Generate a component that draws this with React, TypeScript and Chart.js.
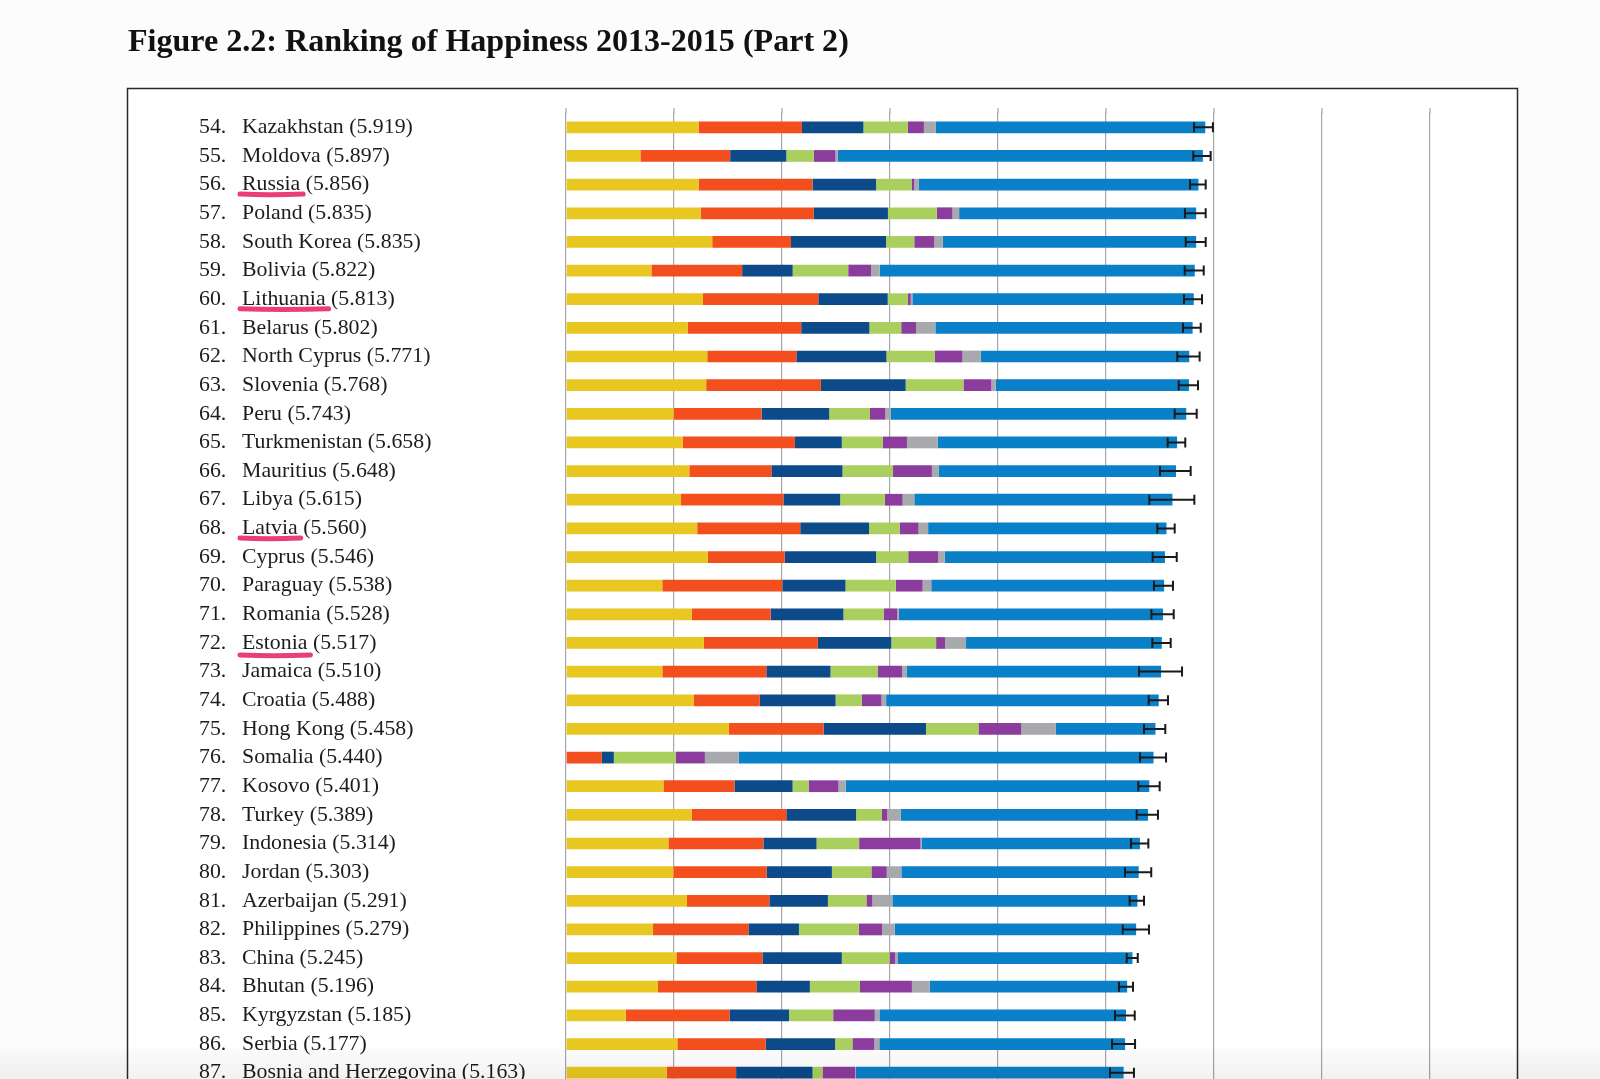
import React, { useEffect, useRef } from 'react';
import { Chart, registerables } from 'chart.js';

Chart.register(...registerables);

const TITLE = 'Figure 2.2: Ranking of Happiness 2013-2015 (Part 2)';

const ranks = [54, 55, 56, 57, 58, 59, 60, 61, 62, 63, 64, 65, 66, 67, 68, 69, 70, 71, 72, 73, 74, 75, 76, 77, 78, 79, 80, 81, 82, 83, 84, 85, 86, 87];

const countries = [
  'Kazakhstan', 'Moldova', 'Russia', 'Poland', 'South Korea', 'Bolivia', 'Lithuania', 'Belarus',
  'North Cyprus', 'Slovenia', 'Peru', 'Turkmenistan', 'Mauritius', 'Libya', 'Latvia', 'Cyprus',
  'Paraguay', 'Romania', 'Estonia', 'Jamaica', 'Croatia', 'Hong Kong', 'Somalia', 'Kosovo',
  'Turkey', 'Indonesia', 'Jordan', 'Azerbaijan', 'Philippines', 'China', 'Bhutan', 'Kyrgyzstan',
  'Serbia', 'Bosnia and Herzegovina',
];

const scores = ['5.919', '5.897', '5.856', '5.835', '5.835', '5.822', '5.813', '5.802', '5.771', '5.768', '5.743', '5.658', '5.648', '5.615', '5.560', '5.546', '5.538', '5.528', '5.517', '5.510', '5.488', '5.458', '5.440', '5.401', '5.389', '5.314', '5.303', '5.291', '5.279', '5.245', '5.196', '5.185', '5.177', '5.163'];

const underlined = ['Russia', 'Lithuania', 'Latvia', 'Estonia'];

const gdp = [1.228, 0.689, 1.228, 1.246, 1.354, 0.791, 1.268, 1.126, 1.308, 1.298, 0.997, 1.080, 1.142, 1.065, 1.215, 1.314, 0.892, 1.166, 1.277, 0.892, 1.182, 1.508, 0.000, 0.902, 1.163, 0.948, 0.994, 1.120, 0.806, 1.022, 0.852, 0.554, 1.031, 0.932];
const social = [0.957, 0.831, 1.055, 1.049, 0.729, 0.840, 1.068, 1.052, 0.825, 1.062, 0.815, 1.040, 0.760, 0.948, 0.954, 0.711, 1.111, 0.729, 1.055, 0.963, 0.612, 0.877, 0.332, 0.658, 0.877, 0.880, 0.865, 0.763, 0.883, 0.797, 0.911, 0.960, 0.818, 0.643];
const health = [0.569, 0.520, 0.588, 0.686, 0.880, 0.468, 0.643, 0.631, 0.834, 0.785, 0.625, 0.434, 0.658, 0.526, 0.637, 0.846, 0.585, 0.674, 0.680, 0.594, 0.702, 0.948, 0.111, 0.538, 0.646, 0.492, 0.603, 0.542, 0.468, 0.735, 0.495, 0.551, 0.643, 0.708];
const freedom = [0.412, 0.255, 0.329, 0.452, 0.262, 0.514, 0.188, 0.295, 0.446, 0.535, 0.378, 0.378, 0.468, 0.412, 0.283, 0.298, 0.465, 0.372, 0.415, 0.440, 0.243, 0.486, 0.572, 0.148, 0.240, 0.394, 0.366, 0.357, 0.554, 0.443, 0.462, 0.409, 0.160, 0.092];
const generosity = [0.148, 0.200, 0.025, 0.145, 0.185, 0.212, 0.025, 0.138, 0.258, 0.258, 0.142, 0.225, 0.360, 0.166, 0.175, 0.277, 0.249, 0.126, 0.083, 0.222, 0.182, 0.397, 0.271, 0.277, 0.049, 0.569, 0.142, 0.055, 0.215, 0.049, 0.483, 0.385, 0.203, 0.302];
const corruption = [0.111, 0.022, 0.043, 0.062, 0.080, 0.080, 0.015, 0.178, 0.169, 0.040, 0.052, 0.286, 0.062, 0.108, 0.089, 0.062, 0.080, 0.015, 0.194, 0.046, 0.043, 0.320, 0.314, 0.068, 0.123, 0.009, 0.135, 0.185, 0.117, 0.028, 0.166, 0.043, 0.046, 0.006];
const dystopia = [2.494, 3.380, 2.588, 2.195, 2.345, 2.917, 2.606, 2.382, 1.931, 1.790, 2.734, 2.215, 2.198, 2.390, 2.207, 2.038, 2.156, 2.446, 1.813, 2.353, 2.524, 0.922, 3.840, 2.810, 2.291, 2.022, 2.198, 2.269, 2.236, 2.171, 1.827, 2.283, 2.276, 2.480];

const ciLow = [5.815, 5.808, 5.778, 5.731, 5.738, 5.729, 5.722, 5.713, 5.660, 5.673, 5.636, 5.571, 5.500, 5.401, 5.475, 5.432, 5.444, 5.420, 5.429, 5.306, 5.395, 5.352, 5.315, 5.299, 5.284, 5.231, 5.176, 5.219, 5.155, 5.192, 5.120, 5.083, 5.056, 5.037];
const ciHigh = [5.990, 5.969, 5.923, 5.923, 5.923, 5.905, 5.889, 5.877, 5.867, 5.852, 5.840, 5.734, 5.784, 5.818, 5.636, 5.655, 5.620, 5.627, 5.599, 5.704, 5.574, 5.549, 5.556, 5.497, 5.481, 5.392, 5.419, 5.352, 5.398, 5.294, 5.250, 5.266, 5.269, 5.259];

const seriesNames = ['GDP per capita', 'Social support', 'Healthy life expectancy', 'Freedom', 'Generosity', 'Perceptions of corruption', 'Dystopia + residual'];
const seriesColors = ['#e8c820', '#f24e1e', '#0c4a8a', '#a9d05e', '#8c3c9c', '#a8a9ad', '#0a80c8'];
const xTicks = [0, 1, 2, 3, 4, 5, 6, 7, 8];

const SERIF = "'Liberation Serif', 'DejaVu Serif', serif";
const GRID = '#a6a6aa';

export default function App() {
  const ref = useRef<HTMLCanvasElement | null>(null);

  useEffect(() => {
    const canvas = ref.current;
    if (!canvas) return;
    const seriesData = [gdp, social, health, freedom, generosity, corruption, dystopia];

    const decor = {
      id: 'decor',
      beforeDraw(chart: any) {
        const ctx = chart.ctx;
        ctx.save();
        ctx.fillStyle = '#fcfcfd';
        ctx.fillRect(0, 0, chart.width, chart.height);
        // title
        ctx.fillStyle = '#111';
        ctx.font = `bold 30px ${SERIF}`;
        const tw = ctx.measureText(TITLE).width;
        const ts = (30 * 721) / tw;
        ctx.font = `bold ${ts}px ${SERIF}`;
        ctx.textBaseline = 'alphabetic';
        ctx.textAlign = 'left';
        ctx.fillText(TITLE, 128, 51);
        // frame
        ctx.fillStyle = '#ffffff';
        ctx.fillRect(128, 89, 1389, 1200);
        ctx.strokeStyle = '#2a2a2a';
        ctx.lineWidth = 1.5;
        ctx.strokeRect(127.5, 88.5, 1390, 1200);
        // grid extension above chart area
        const xs = chart.scales.x;
        ctx.strokeStyle = GRID;
        ctx.lineWidth = 1.2;
        xTicks.forEach((t) => {
          const px = xs.getPixelForValue(t);
          ctx.beginPath();
          ctx.moveTo(px, 108);
          ctx.lineTo(px, chart.chartArea.top + 1);
          ctx.stroke();
        });
        ctx.restore();
      },
      afterDatasetsDraw(chart: any) {
        const ctx = chart.ctx;
        const xs = chart.scales.x;
        const ys = chart.scales.y;
        ctx.save();
        // error bars
        ctx.strokeStyle = '#1a1a1a';
        ctx.lineWidth = 2;
        for (let i = 0; i < countries.length; i++) {
          const y = ys.getPixelForValue(i);
          const x1 = xs.getPixelForValue(ciLow[i]);
          const x2 = xs.getPixelForValue(ciHigh[i]);
          ctx.beginPath();
          ctx.moveTo(x1, y);
          ctx.lineTo(x2, y);
          ctx.moveTo(x1, y - 5);
          ctx.lineTo(x1, y + 5);
          ctx.moveTo(x2, y - 5);
          ctx.lineTo(x2, y + 5);
          ctx.stroke();
        }
        // labels
        ctx.font = `20px ${SERIF}`;
        const longest = `${countries[countries.length - 1]} (${scores[scores.length - 1]})`;
        const lw = ctx.measureText(longest).width;
        const fs = (20 * 283.7) / lw;
        ctx.font = `${fs}px ${SERIF}`;
        ctx.textBaseline = 'middle';
        ctx.textAlign = 'left';
        ctx.fillStyle = '#1c1c1c';
        for (let i = 0; i < countries.length; i++) {
          const y = ys.getPixelForValue(i);
          ctx.fillText(`${ranks[i]}.`, 199, y);
          const name = countries[i];
          ctx.fillText(`${name} (${scores[i]})`, 242, y);
          if (underlined.includes(name)) {
            const nw = ctx.measureText(name).width;
            ctx.save();
            ctx.strokeStyle = 'rgba(232, 40, 110, 0.9)';
            ctx.lineWidth = 5;
            ctx.lineCap = 'round';
            ctx.beginPath();
            const uy = y + (name === 'Estonia' ? 12 : 9.5);
            ctx.moveTo(240, uy);
            ctx.quadraticCurveTo(240 + nw / 2, uy + 1.5, 242 + nw + 3, uy);
            ctx.stroke();
            ctx.restore();
          }
        }
        ctx.restore();
      },
    };

    const chart = new Chart(canvas, {
      type: 'bar',
      data: {
        labels: countries,
        datasets: seriesData.map((d, k) => ({
          label: seriesNames[k],
          data: d,
          backgroundColor: seriesColors[k],
          borderWidth: 0,
          barPercentage: 0.41,
          categoryPercentage: 1,
        })),
      },
      options: {
        indexAxis: 'y',
        animation: false,
        responsive: false,
        maintainAspectRatio: false,
        devicePixelRatio: 1,
        layout: { padding: { left: 566, right: 170, top: 113, bottom: 13 } },
        plugins: { legend: { display: false }, tooltip: { enabled: false }, title: { display: false } },
        scales: {
          x: {
            stacked: true,
            min: 0,
            max: 8,
            ticks: { display: false, stepSize: 1 },
            grid: { color: GRID, lineWidth: 1.2, drawTicks: false },
            border: { display: false },
          },
          y: {
            stacked: true,
            display: false,
          },
        },
      },
      plugins: [decor],
    });
    return () => chart.destroy();
  }, []);

  return (
    <div style={{ position: 'absolute', left: 0, top: 0, width: 1600, height: 1079, overflow: 'hidden', background: '#fcfcfd' }}>
      <canvas ref={ref} width={1600} height={1100} style={{ display: 'block', width: 1600, height: 1100 }} />
      <div style={{ position: 'absolute', left: 0, top: 1049, width: 1600, height: 30, background: 'linear-gradient(rgba(0,0,0,0.015), rgba(0,0,0,0.05))', pointerEvents: 'none' }} />
    </div>
  );
}
